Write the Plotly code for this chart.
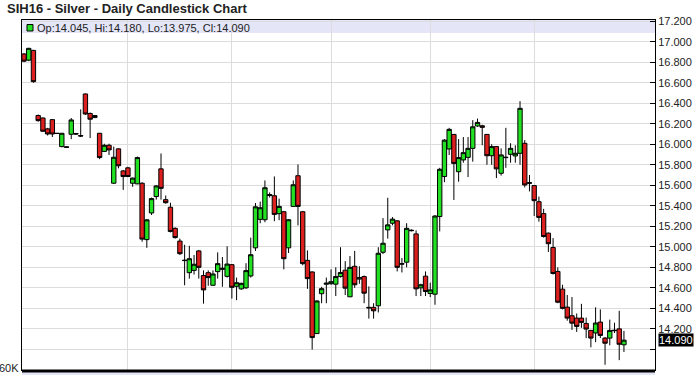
import pandas as pd
import plotly.graph_objects as go

# ---- data ----
open_ = [16.88, 16.82, 16.915, 16.28, 16.256, 16.15, 16.24, 16.107, 15.977, 15.975,
         16.097, 16.105, 16.085, 16.49, 16.30, 16.26, 16.107, 15.93, 15.99, 15.62,
         15.955, 15.74, 15.77, 15.62, 15.614, 15.62, 15.07, 15.33, 15.49, 15.76,
         15.46, 15.386, 15.18, 15.056, 14.87, 14.748, 14.77, 14.96, 14.72, 14.748,
         14.625, 14.758, 14.78, 14.712, 14.826, 14.615, 14.59, 14.60, 14.716, 14.99,
         15.268, 15.264, 15.51, 15.498, 15.323, 15.342, 14.99, 15.394, 15.693, 15.342,
         14.868, 14.755, 14.154, 14.543, 14.635, 14.64, 14.636, 14.71, 14.772, 14.513,
         14.81, 14.685, 14.71, 14.41, 14.41, 14.425, 14.947, 15.165, 15.23, 15.253,
         14.836, 14.85, 15.162, 15.126, 14.60, 14.714, 14.545, 14.538, 15.295, 15.685,
         15.954, 16.096, 15.732, 15.847, 15.872, 15.96, 16.178, 16.18, 16.096, 15.888,
         15.977, 15.717, 15.874, 15.902, 15.886, 15.912, 16.009, 15.626, 15.597, 15.44,
         15.324, 15.133, 14.993, 14.76, 14.587, 14.412, 14.328, 14.305, 14.305, 14.253,
         14.185, 14.16, 14.266, 14.11, 14.11, 14.187, 14.20, 14.045]

high = [16.89, 16.94, 16.92, 16.29, 16.26, 16.16, 16.245, 16.11, 16.11, 15.98,
        16.256, 16.11, 16.34, 16.495, 16.31, 16.285, 16.11, 16.005, 16.005, 15.977,
        15.96, 15.75, 15.78, 15.675, 15.88, 15.63, 15.27, 15.48, 15.60, 15.91,
        15.50, 15.43, 15.19, 15.08, 15.02, 15.01, 14.92, 14.97, 14.77, 14.77,
        14.77, 14.946, 14.90, 15.005, 14.83, 14.70, 14.65, 14.84, 15.089, 15.427,
        15.44, 15.647, 15.53, 15.686, 15.47, 15.35, 15.27, 15.647, 15.803, 15.35,
        14.965, 14.76, 14.48, 14.61, 14.70, 14.78, 14.80, 14.996, 14.86, 14.91,
        14.96, 14.81, 14.72, 14.614, 14.45, 14.996, 15.28, 15.478, 15.29, 15.26,
        14.89, 15.23, 15.17, 15.16, 14.64, 14.76, 14.65, 15.31, 15.77, 16.05,
        16.16, 16.10, 16.05, 16.07, 16.07, 16.235, 16.25, 16.19, 16.10, 16.00,
        15.98, 15.96, 16.16, 16.01, 15.99, 16.42, 16.04, 15.70, 15.60, 15.49,
        15.37, 15.14, 15.085, 14.80, 14.63, 14.53, 14.51, 14.35, 14.444, 14.31,
        14.19, 14.41, 14.39, 14.12, 14.29, 14.26, 14.376, 14.18]

low = [16.80, 16.81, 16.60, 16.22, 16.12, 16.085, 16.07, 16.10, 15.97, 15.965,
       16.05, 16.09, 16.07, 16.285, 16.06, 16.255, 15.855, 15.925, 15.895, 15.615,
       15.765, 15.555, 15.68, 15.585, 15.61, 15.05, 14.99, 15.31, 15.46, 15.46,
       15.42, 15.14, 15.08, 14.92, 14.625, 14.69, 14.73, 14.69, 14.446, 14.62,
       14.62, 14.69, 14.61, 14.70, 14.495, 14.48, 14.58, 14.59, 14.70, 14.96,
       15.23, 15.24, 15.48, 15.25, 15.26, 14.78, 14.94, 15.39, 15.209, 14.82,
       14.59, 13.998, 14.15, 14.45, 14.45, 14.63, 14.52, 14.70, 14.53, 14.51,
       14.60, 14.64, 14.45, 14.30, 14.30, 14.36, 14.93, 15.08, 15.21, 14.76,
       14.75, 14.80, 15.15, 14.52, 14.52, 14.52, 14.51, 14.435, 15.15, 15.63,
       15.895, 15.457, 15.635, 15.82, 15.68, 15.83, 16.17, 15.99, 15.80, 15.80,
       15.67, 15.694, 15.77, 15.82, 15.82, 15.80, 15.58, 15.54, 15.30, 15.245,
       15.09, 14.95, 14.73, 14.45, 14.39, 14.28, 14.19, 14.17, 14.21, 14.11,
       14.02, 14.07, 14.11, 13.85, 14.04, 14.16, 13.895, 13.975]

close = [16.81, 16.935, 16.61, 16.23, 16.127, 16.10, 16.10, 16.105, 16.107, 15.97,
         16.237, 16.10, 16.08, 16.295, 16.244, 16.28, 15.87, 15.99, 15.945, 15.873,
         15.79, 15.685, 15.685, 15.67, 15.87, 15.075, 15.263, 15.47, 15.594, 15.57,
         15.43, 15.15, 15.09, 14.933, 14.866, 14.884, 14.83, 14.80, 14.58, 14.70,
         14.735, 14.836, 14.79, 14.832, 14.605, 14.65, 14.644, 14.768, 14.923, 15.39,
         15.381, 15.576, 15.50, 15.316, 15.394, 14.884, 15.264, 15.605, 15.394, 14.836,
         14.69, 14.115, 14.472, 14.592, 14.645, 14.66, 14.71, 14.75, 14.597, 14.80,
         14.63, 14.70, 14.548, 14.405, 14.376, 14.937, 15.035, 15.214, 15.27, 14.80,
         14.832, 15.18, 15.158, 14.59, 14.63, 14.564, 14.58, 15.30, 15.756, 16.04,
         16.145, 15.813, 15.87, 15.918, 15.96, 16.17, 16.213, 16.165, 15.888, 15.977,
         15.76, 15.896, 15.870, 15.96, 15.912, 16.35, 15.603, 15.62, 15.45, 15.287,
         15.10, 15.03, 14.74, 14.46, 14.40, 14.305, 14.256, 14.224, 14.263, 14.198,
         14.11, 14.257, 14.136, 14.06, 14.185, 14.183, 14.05, 14.09]

holidays = ["2015-07-03", "2015-09-07"]
y_ticks = [13.8, 14.0, 14.2, 14.4, 14.6, 14.8, 15.0, 15.2, 15.4, 15.6, 15.8,
           16.0, 16.2, 16.4, 16.6, 16.8, 17.0, 17.2]
hidden_tick = 14.0
title_text = "SIH16 - Silver - Daily Candlestick Chart"
volume_label = "60K"

# ---- trading-day categories ----
days = pd.bdate_range("2015-06-01", "2015-11-27")
days = days[~days.isin(pd.to_datetime(holidays))]
n = min(len(days), len(open_), len(high), len(low), len(close))
days = days[:n]
dates = [d.strftime("%Y-%m-%d") for d in days]
month_starts = [dates[i] for i in range(1, n) if days[i].month != days[i - 1].month]

GREEN = "#22e022"
RED = "#dc1f1f"
FONT = "Liberation Sans, Arial, sans-serif"

fig = go.Figure()
fig.add_trace(go.Candlestick(
    x=dates, open=open_[:n], high=high[:n], low=low[:n], close=close[:n],
    increasing=dict(line=dict(color="black", width=1), fillcolor=GREEN),
    decreasing=dict(line=dict(color="black", width=1), fillcolor=RED),
    whiskerwidth=0, showlegend=False, hoverinfo="x+y",
))

L, R, T, B = 22, 41, 20, 5
W, H = 696, 375
pw, ph = W - L - R, H - T - B
spacing = 4.724
x_lo = -2 / spacing
x_hi = x_lo + pw / spacing
y_lo = 13.799
y_hi = 13.8 + ph / 102.6


def px_x(px):
    return (px - L) / pw


def px_y(py):
    return (H - B - py) / ph


ticktext = ["" if abs(v - hidden_tick) < 1e-9 else f"{v:.3f}" for v in y_ticks]

fig.update_layout(
    width=W, height=H,
    margin=dict(l=L, r=R, t=T, b=B, pad=0),
    paper_bgcolor="white", plot_bgcolor="white",
    font=dict(family=FONT, size=11, color="#222"),
    boxgap=0.08, boxgroupgap=0,
    xaxis=dict(
        type="category", range=[x_lo, x_hi], rangeslider=dict(visible=False),
        tickvals=month_starts, showticklabels=False, ticks="",
        showgrid=True, gridcolor="#dcdcdc", gridwidth=1,
        showline=True, linecolor="black", linewidth=1, mirror=True,
        zeroline=False, fixedrange=True,
    ),
    yaxis=dict(
        side="right", range=[y_lo, y_hi],
        tickvals=y_ticks, ticktext=ticktext,
        ticks="inside", ticklen=5, tickcolor="black", tickwidth=1,
        tickfont=dict(family=FONT, size=11, color="#222"),
        showgrid=True, gridcolor="#dcdcdc", gridwidth=1,
        showline=True, linecolor="black", linewidth=1, mirror=True,
        zeroline=False, fixedrange=True,
    ),
)

last = n - 1
legend_text = (f"Op:{open_[last]:.3f}, Hi:{high[last]:.3f}, "
               f"Lo:{low[last]:.3f}, Cl:{close[last]:.3f}")

shapes = [
    # legend band
    dict(type="rect", xref="paper", yref="paper", x0=0, x1=1,
         y0=px_y(33), y1=1, fillcolor="#e4e6f8", line=dict(width=0), layer="below"),
    # legend square
    dict(type="rect", xref="paper", yref="paper", x0=px_x(27), x1=px_x(33),
         y0=px_y(31), y1=px_y(24.5), fillcolor=GREEN, line=dict(color="black", width=1)),
    # lower pane band
    dict(type="rect", xref="paper", yref="paper", x0=0, x1=1,
         y0=px_y(376), y1=px_y(371), fillcolor="#e4e6f8", line=dict(width=0)),
    # thick bottom line
    dict(type="line", xref="paper", yref="paper", x0=0, x1=1,
         y0=px_y(371), y1=px_y(371), line=dict(color="black", width=3)),
]
fig.update_layout(shapes=shapes)

annotations = [
    dict(text=f"<b>{title_text}</b>", xref="paper", yref="paper",
         x=px_x(5), y=px_y(8), xanchor="left", yanchor="middle", showarrow=False,
         font=dict(family=FONT, size=13, color="#222")),
    dict(text=legend_text, xref="paper", yref="paper",
         x=px_x(35), y=px_y(27.5), xanchor="left", yanchor="middle", showarrow=False,
         font=dict(family=FONT, size=11, color="#222")),
    dict(text=f"{close[last]:.3f}", xref="paper", yref="y",
         x=px_x(658), y=close[last], xanchor="left", yanchor="middle", showarrow=False,
         bgcolor="black", borderpad=0,
         font=dict(family=FONT, size=11, color="white")),
    dict(text=volume_label, xref="paper", yref="paper",
         x=px_x(21), y=px_y(367.5), xanchor="right", yanchor="middle", showarrow=False,
         font=dict(family=FONT, size=11, color="#222")),
]
fig.update_layout(annotations=annotations)

fig.write_html("out.html")
